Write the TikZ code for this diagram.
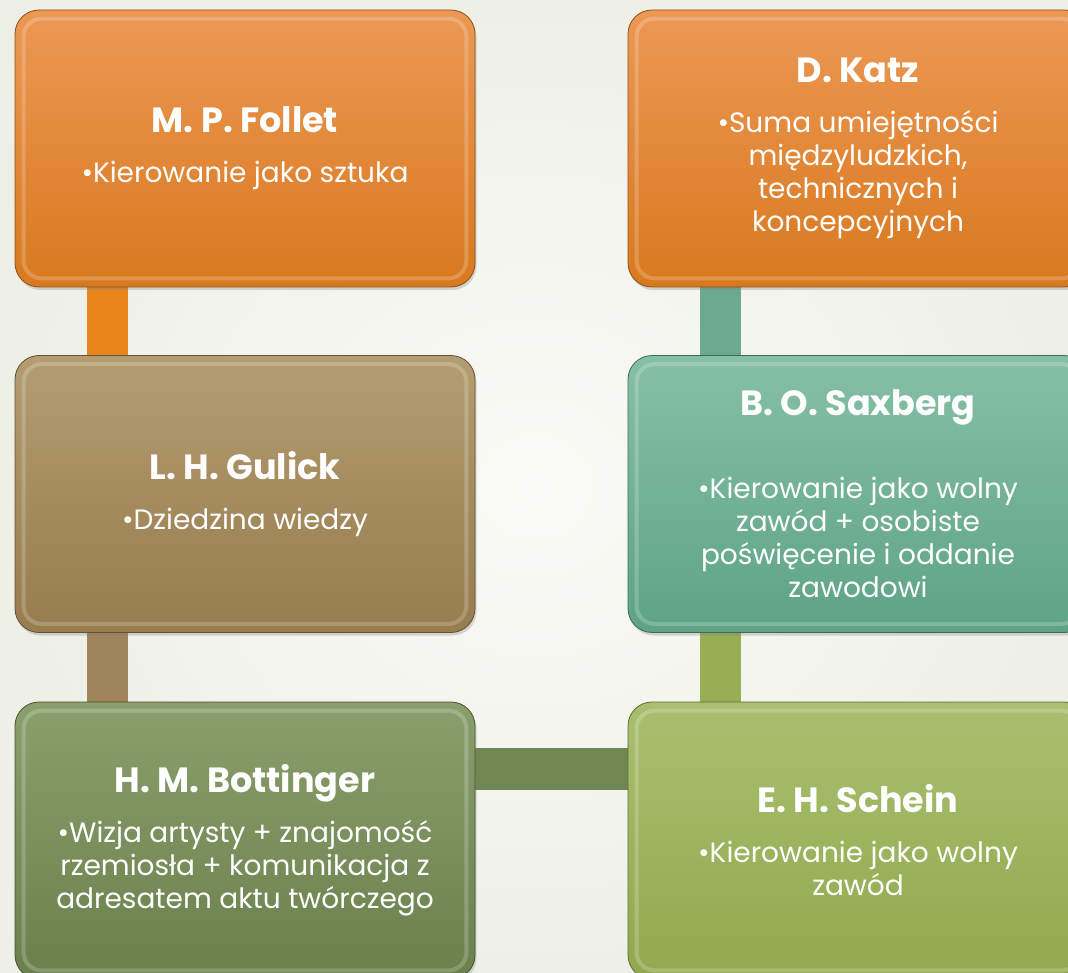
\documentclass[tikz,border=0pt]{standalone}
\usepackage{fontspec}
\setmainfont{Poppins}
\usetikzlibrary{shadows}
\pgfdeclarelayer{back}
\pgfdeclarelayer{links}
\pgfsetlayers{back,links,main}
\definecolor{bgA}{HTML}{FAFAF6}
\definecolor{bgB}{HTML}{EEF0E8}
\definecolor{orT}{HTML}{EC9854}
\definecolor{orB}{HTML}{D8791F}
\definecolor{taT}{HTML}{B39D71}
\definecolor{taB}{HTML}{977C4E}
\definecolor{teT}{HTML}{86C0A6}
\definecolor{teB}{HTML}{5EA386}
\definecolor{dgT}{HTML}{8B9F6D}
\definecolor{dgB}{HTML}{6A804C}
\definecolor{lgT}{HTML}{A9BF6F}
\definecolor{lgB}{HTML}{90A94E}
\definecolor{lkOr}{HTML}{E8861C}
\definecolor{lkTa}{HTML}{A0855A}
\definecolor{lkTe}{HTML}{6BAA91}
\definecolor{lkOl}{HTML}{98AE54}
\definecolor{lkDg}{HTML}{6F8752}
\newcommand\ttlf{\fontsize{35}{41}\selectfont\bfseries}
\tikzset{
  x=1pt, y=-1pt,
  box/.style 2 args={rounded corners=24pt, minimum width=460pt, minimum height=277pt,
    top color=#1, bottom color=#2, draw=#2!65!black, line width=0.8pt,
    align=center, text=white, font=\fontsize{28}{33}\selectfont,
    drop shadow={opacity=0.3, shadow xshift=1.5pt, shadow yshift=-3pt}},
  rimline/.style={rounded corners=18pt, draw=white, draw opacity=0.2, line width=4pt},
  link/.style={line width=41pt}
}
\newcommand\rim[1]{\draw[rimline] ([shift={(9pt,-9pt)}]#1.north west) rectangle ([shift={(-9pt,9pt)}]#1.south east);}
\begin{document}
\begin{tikzpicture}
\useasboundingbox (0,0) rectangle (1068,973);
\begin{pgfonlayer}{back}
\fill[inner color=bgA, outer color=bgB] (0,0) rectangle (1068,973);
\end{pgfonlayer}
\clip (0,0) rectangle (1068,973);
\node[box={orT}{orB}] (follet) at (245,148.5) {{\ttlf M. P. Follet}\\[17pt]•Kierowanie jako sztuka};
\node[box={orT}{orB}] (katz) at (858,148.5) {{\ttlf D. Katz}\\[17pt]•Suma umiejętności\\międzyludzkich,\\technicznych i\\koncepcyjnych};
\node[box={taT}{taB}] (gulick) at (245,494) {{\ttlf L. H. Gulick}\\[17pt]•Dziedzina wiedzy};
\node[box={teT}{teB}] (saxberg) at (858,494) {{\ttlf B. O. Saxberg}\\[50pt]•Kierowanie jako wolny\\zawód + osobiste\\poświęcenie i oddanie\\zawodowi};
\node[box={dgT}{dgB}] (bott) at (245,840.5) {{\ttlf H. M. Bottinger}\\[17pt]•Wizja artysty + znajomość\\rzemiosła + komunikacja z\\adresatem aktu twórczego};
\node[box={lgT}{lgB}] (schein) at (858,840.5) {{\ttlf E. H. Schein}\\[17pt]•Kierowanie jako wolny\\zawód};
\rim{follet}\rim{katz}\rim{gulick}\rim{saxberg}\rim{bott}\rim{schein}
\begin{pgfonlayer}{links}
\draw[link, draw=lkOr] ([xshift=93pt]follet.south west) -- ([xshift=93pt]gulick.north west);
\draw[link, draw=lkTa] ([xshift=93pt]gulick.south west) -- ([xshift=93pt]bott.north west);
\draw[link, draw=lkDg, line width=42pt] ([yshift=-67pt]bott.north east) -- ([yshift=-67pt]schein.north west);
\draw[link, draw=lkOl] ([xshift=92.5pt]schein.north west) -- ([xshift=92.5pt]saxberg.south west);
\draw[link, draw=lkTe] ([xshift=92.5pt]saxberg.north west) -- ([xshift=92.5pt]katz.south west);
\end{pgfonlayer}
\end{tikzpicture}
\end{document}
